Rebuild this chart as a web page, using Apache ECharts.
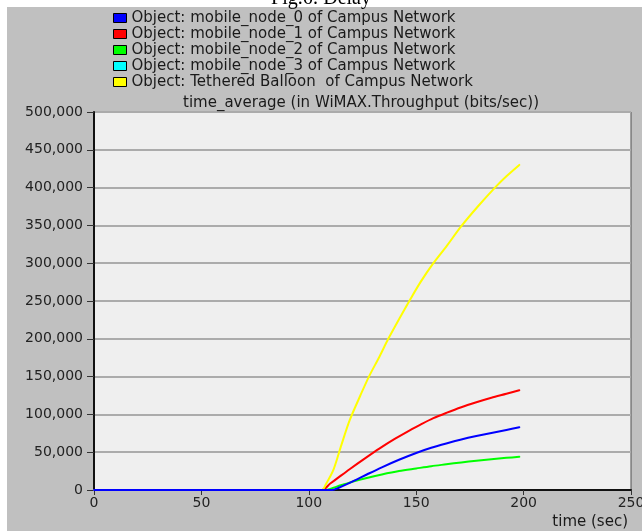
<!DOCTYPE html>
<html>
<head>
<meta charset="utf-8">
<script src="https://cdn.jsdelivr.net/npm/echarts@6/dist/echarts.min.js"></script>
<style>
  html, body { margin: 0; padding: 0; background: #ffffff; width: 642px; height: 531px; overflow: hidden; }
  #bg { position: absolute; left: 7px; top: 7px; right: 0; bottom: 0; background: #c0c0c0; }
  #chart { position: absolute; left: 0; top: 0; width: 642px; height: 531px; }
</style>
</head>
<body>
<div id="bg"></div>
<div id="chart"></div>
<script>
// ---- Data ----
const seriesNames = [
  'Object: mobile_node_0 of Campus Network',
  'Object: mobile_node_1 of Campus Network',
  'Object: mobile_node_2 of Campus Network',
  'Object: mobile_node_3 of Campus Network',
  'Object: Tethered Balloon  of Campus Network'
];
const seriesColors = ['#0000ff', '#ff0000', '#00ff00', '#00ffff', '#ffff00'];

// time (sec) and throughput (bits/sec) for each object
const node0Time   = [0, 111, 114, 118, 122, 127, 134, 142, 150, 157, 164, 171, 178, 185, 192, 198];
const node0Values = [0, 0, 3000, 8000, 13500, 20500, 30000, 40000, 49000, 55800, 61500, 66700, 71300, 75500, 79400, 83000];

const node1Time   = [0, 106, 110, 114, 119, 126, 133, 140, 147, 152, 158, 164, 171, 178, 185, 192, 198];
const node1Values = [0, 0, 8500, 17000, 27500, 41500, 55000, 67500, 79000, 86500, 95000, 102000, 109500, 116000, 122000, 127300, 132000];

const node2Time   = [0, 108, 110, 113, 117, 121, 127, 134, 142, 150, 157, 164, 171, 178, 185, 192, 198];
const node2Values = [0, 0, 1500, 4500, 8000, 11500, 16000, 20500, 25000, 28500, 31500, 34000, 36500, 38800, 40800, 42500, 44000];

const node3Time   = [0, 105];
const node3Values = [0, 0];

const balloonTime   = [0, 106, 108, 111.5, 115, 119, 124, 128, 133, 137, 142, 147, 152, 158, 164, 171, 179, 187, 192, 198];
const balloonValues = [0, 0, 8000, 27000, 58000, 92000, 125000, 150000, 177000, 200000, 226000, 251000, 275000, 300000, 322000, 349000, 376000, 401000, 415000, 430000];

const xTicks = [0, 50, 100, 150, 200, 250];
const yTicks = [0, 50000, 100000, 150000, 200000, 250000, 300000, 350000, 400000, 450000, 500000];

const plotTitle = 'time_average (in WiMAX.Throughput (bits/sec))';
const xAxisName = 'time (sec)';
const figCaption = 'Fig.6: Delay';

// ---- Build chart ----
const pairs = (t, v) => t.map((x, i) => [x, v[i]]);
const allData = [
  pairs(node0Time, node0Values),
  pairs(node1Time, node1Values),
  pairs(node2Time, node2Values),
  pairs(node3Time, node3Values),
  pairs(balloonTime, balloonValues)
];
const zOrder = [6, 4, 3, 2, 5];

const FONT = '"DejaVu Sans", "Liberation Sans", Arial, sans-serif';

const chart = echarts.init(document.getElementById('chart'), null, { renderer: 'canvas' });
chart.setOption({
  animation: false,
  backgroundColor: 'transparent',
  legend: {
    orient: 'vertical',
    left: 113,
    top: 10,
    padding: 0,
    itemWidth: 13,
    itemHeight: 9,
    itemGap: 0,
    selectedMode: false,
    icon: 'rect',
    data: seriesNames.map((n, i) => ({
      name: n,
      itemStyle: { color: seriesColors[i], borderColor: '#000000', borderWidth: 1 }
    })),
    textStyle: { fontFamily: FONT, fontSize: 15, color: '#1a1a1a', lineHeight: 16 }
  },
  grid: {
    left: 94, right: 11, top: 112, bottom: 41,
    outerBoundsMode: 'none',
    containLabel: false,
    show: true, backgroundColor: '#efefef', borderColor: '#505050', borderWidth: 1
  },
  xAxis: {
    type: 'value',
    min: xTicks[0], max: xTicks[xTicks.length - 1], interval: xTicks[1] - xTicks[0],
    axisLine: { show: true, lineStyle: { color: '#111111', width: 2 } },
    axisTick: { show: true, length: 5, lineStyle: { color: '#333333', width: 1 } },
    axisLabel: { fontFamily: FONT, fontSize: 14, color: '#222222', margin: 6, hideOverlap: false },
    splitLine: { show: false }
  },
  yAxis: {
    type: 'value',
    min: yTicks[0], max: yTicks[yTicks.length - 1], interval: yTicks[1] - yTicks[0],
    axisLine: { show: true, lineStyle: { color: '#111111', width: 2 } },
    axisTick: { show: true, length: 7, lineStyle: { color: '#333333', width: 1 } },
    axisLabel: {
      fontFamily: FONT, fontSize: 14, color: '#222222', margin: 11,
      formatter: v => v.toLocaleString('en-US')
    },
    splitLine: { show: true, lineStyle: { color: '#ababab', width: 2 } }
  },
  series: allData.map((d, i) => ({
    name: seriesNames[i],
    type: 'line',
    data: d,
    z: zOrder[i],
    smooth: 0.3,
    showSymbol: false,
    symbol: 'none',
    color: seriesColors[i],
    lineStyle: { color: seriesColors[i], width: 2, join: 'round', cap: 'round' }
  })),
  graphic: [
    {
      type: 'text', x: 361, y: 103, z: 10,
      style: { text: plotTitle, fontFamily: FONT, fontSize: 15, fill: '#1a1a1a', align: 'center', verticalAlign: 'middle' }
    },
    {
      type: 'text', x: 628, y: 522, z: 10,
      style: { text: xAxisName, fontFamily: FONT, fontSize: 15, fill: '#1a1a1a', align: 'right', verticalAlign: 'middle' }
    },
    {
      type: 'text', x: 321, y: -1, z: 10,
      style: { text: figCaption, fontFamily: '"Liberation Serif", "Times New Roman", serif', fontSize: 20, fill: '#000000', align: 'center', verticalAlign: 'middle' }
    }
  ]
});
</script>
</body>
</html>
